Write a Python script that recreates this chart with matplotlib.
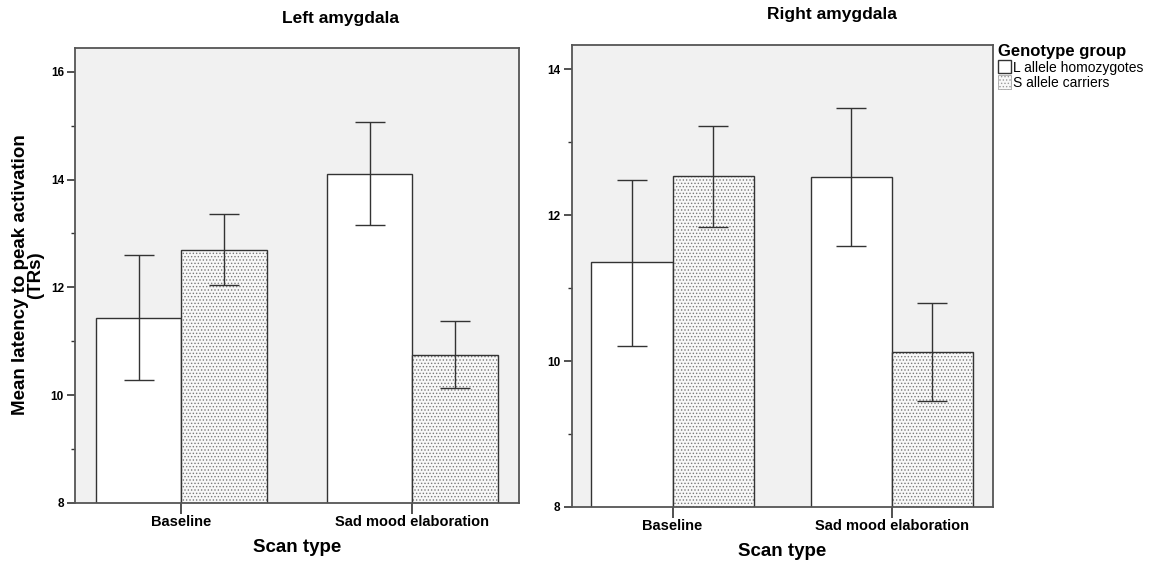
import numpy as np
import matplotlib.pyplot as plt
from matplotlib.patches import Patch

plt.rcParams['font.family'] = ['Liberation Sans', 'DejaVu Sans']
plt.rcParams['hatch.linewidth'] = 0.6

scans = ['Baseline', 'Sad mood elaboration']
groups = ['L allele homozygotes', 'S allele carriers']

# left amygdala: means and error bar limits
left_L = [11.43, 14.10]
left_S = [12.70, 10.75]
left_L_lo = [10.28, 13.15]
left_L_hi = [12.60, 15.07]
left_S_lo = [12.05, 10.13]
left_S_hi = [13.37, 11.38]

# right amygdala
right_L = [11.35, 12.52]
right_S = [12.53, 10.13]
right_L_lo = [10.20, 11.57]
right_L_hi = [12.48, 13.46]
right_S_lo = [11.83, 9.45]
right_S_hi = [13.22, 10.80]

bg = '#f1f1f1'
edge = '#333333'
dots = '#7a7a7a'
hatch = '.....'


def draw(ax, L, S, Llo, Lhi, Slo, Shi, ylim):
    x = np.arange(len(scans))
    w = 0.37
    ax.set_facecolor(bg)
    ax.bar(x - w / 2, L, w, color='white', edgecolor=edge, linewidth=1.0, zorder=2)
    # stipple first, then outline on top
    ax.bar(x + w / 2, S, w, color='#f8f8f8', edgecolor=dots, linewidth=0, hatch=hatch, zorder=2)
    ax.bar(x + w / 2, S, w, color='none', edgecolor=edge, linewidth=1.0, zorder=2.5)
    for xs, m, lo, hi in [(x - w / 2, L, Llo, Lhi), (x + w / 2, S, Slo, Shi)]:
        m = np.array(m)
        err = [m - np.array(lo), np.array(hi) - m]
        ax.errorbar(xs, m, yerr=err, fmt='none', ecolor=edge, elinewidth=1.0,
                    capsize=11, capthick=1.0, zorder=3)
    ax.set_xlim(-0.46, 1.46)
    ax.set_ylim(*ylim)
    ax.set_xticks(x)
    ax.set_xticklabels(scans, fontsize=10.5, fontweight='bold')
    ax.set_yticks(np.arange(8, ylim[1], 2))
    ax.set_yticks(np.arange(9, ylim[1], 2), minor=True)
    ax.tick_params(axis='y', which='major', labelsize=8.5, length=6, width=1.2, colors=edge, pad=2)
    ax.tick_params(axis='y', which='minor', length=3, width=1.0, colors=edge)
    ax.tick_params(axis='x', length=8, width=1.2, colors=edge, pad=1)
    for lab in ax.get_yticklabels():
        lab.set_fontweight('bold')
        lab.set_color('black')
    for lab in ax.get_xticklabels():
        lab.set_color('black')
    for s in ax.spines.values():
        s.set_color('#555555')
        s.set_linewidth(1.3)
    ax.set_xlabel('Scan type', fontsize=13.5, fontweight='bold', labelpad=7)


fig = plt.figure(figsize=(11.55, 5.63), dpi=100)
ax1 = fig.add_axes([0.065, 0.1066, 0.384, 0.808])
ax2 = fig.add_axes([0.495, 0.0995, 0.3645, 0.8206])

draw(ax1, left_L, left_S, left_L_lo, left_L_hi, left_S_lo, left_S_hi, (8, 16.44))
draw(ax2, right_L, right_S, right_L_lo, right_L_hi, right_S_lo, right_S_hi, (8, 14.33))

fig.text(341 / 1155, 1 - 18 / 563, 'Left amygdala', fontsize=12.5, fontweight='bold',
         ha='center', va='center')
fig.text(832 / 1155, 1 - 14 / 563, 'Right amygdala', fontsize=12.5, fontweight='bold',
         ha='center', va='center')

fig.text(28 / 1155, 1 - 275 / 563, 'Mean latency to peak activation\n(TRs)', fontsize=13.5,
         fontweight='bold', linespacing=0.85, rotation=90, ha='center', va='center',
         multialignment='center')

handles = [Patch(facecolor='white', edgecolor=edge, linewidth=1.0),
           Patch(facecolor='#f8f8f8', edgecolor='#999999', linewidth=0.5, hatch=hatch)]
leg = fig.legend(handles, groups, loc='upper left', bbox_to_anchor=(0.862, 0.926),
                 frameon=False, fontsize=10, title='Genotype group',
                 handlelength=0.9, handleheight=1.1, handletextpad=0.15,
                 labelspacing=0.05, borderpad=0.2, borderaxespad=0)
leg.get_title().set_fontweight('bold')
leg.get_title().set_fontsize(12)
leg._legend_box.align = 'left'

fig.savefig('out.png', dpi=100)
